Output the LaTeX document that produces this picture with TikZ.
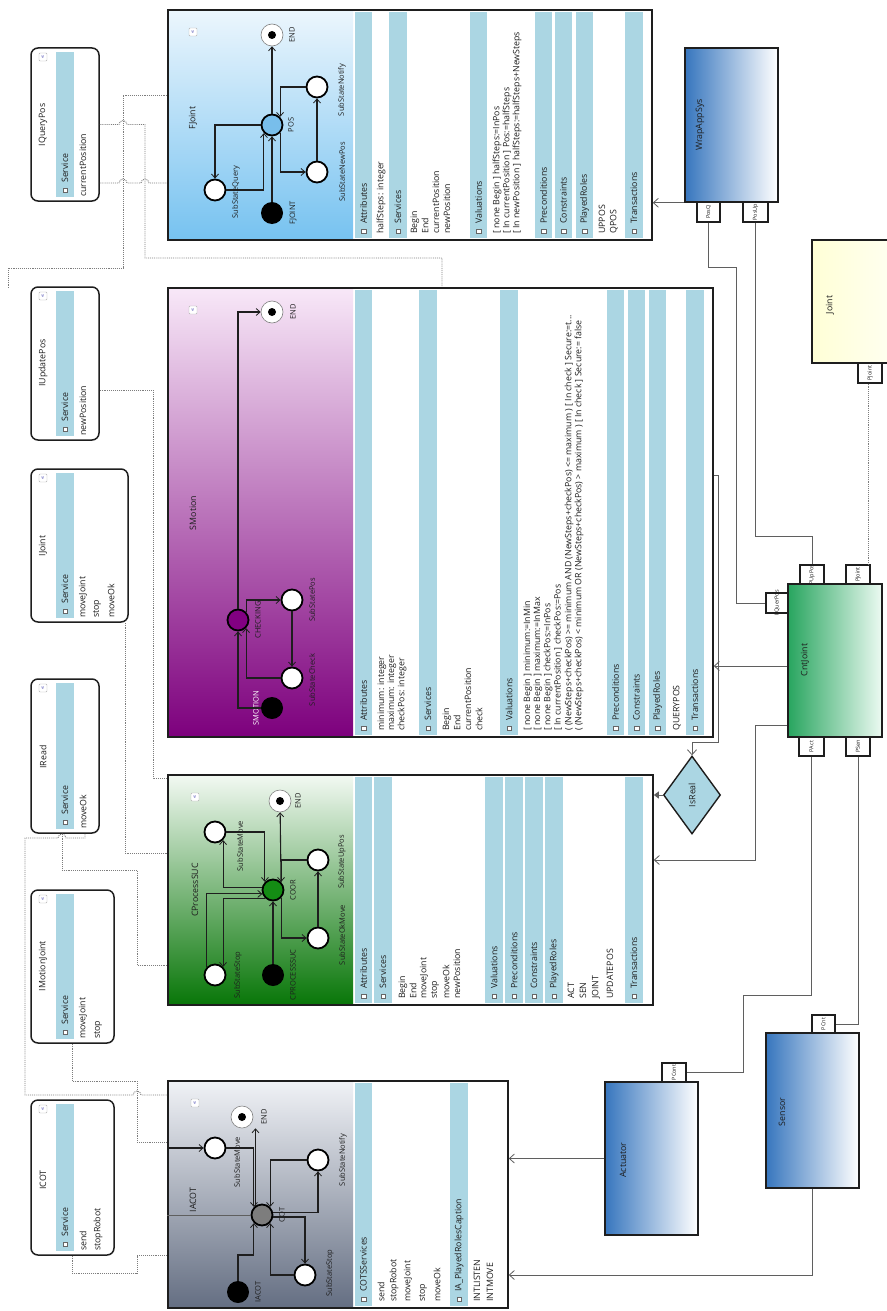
\documentclass[tikz,border=0pt]{standalone}
\usepackage{fontspec}
\setmainfont{Open Sans}
\usetikzlibrary{arrows.meta,shapes.geometric}

\definecolor{bandc}{RGB}{171,214,227}
\definecolor{ink}{RGB}{30,30,30}
\definecolor{wirec}{RGB}{95,95,95}
\definecolor{dotc}{RGB}{125,125,125}
\definecolor{posc}{RGB}{120,190,235}
\definecolor{chkc}{RGB}{130,0,130}
\definecolor{coorc}{RGB}{20,140,20}
\definecolor{cotc}{RGB}{125,125,125}

% compartment band: x1 x2 ytop ybottom label
\newcommand\Band[5]{%
  \fill[bandc] (#1,#3) rectangle (#2,#4);
  \node[expander] at ({(#1+#2)/2},{#4-7}) {};
  \node[txt] at ({(#1+#2)/2},{#4-14}) {#5};}
% compartment entry: x ybottom text
\newcommand\It[3]{\node[txt] at (#1,#2) {#3};}
% collapse icon
\newcommand\Icon[2]{\node[collapse] at (#1,#2) {«};}

\begin{document}
\begin{tikzpicture}[x=1pt,y=-1pt,
  txt/.style={rotate=90,anchor=west,inner sep=0pt,font=\fontsize{8.8}{9}\selectfont,text=ink},
  lbl/.style={rotate=90,inner sep=0pt,font=\fontsize{7.5}{8}\selectfont,text=ink},
  ttl/.style={rotate=90,inner sep=0pt,font=\fontsize{8.8}{9}\selectfont,text=ink},
  plbl/.style={rotate=90,inner sep=0pt,font=\fontsize{5.5}{6}\selectfont,text=ink},
  expander/.style={rectangle,draw=gray!80!black,fill=white,line width=0.4pt,minimum size=4.5pt,inner sep=0pt},
  collapse/.style={rectangle,rounded corners=1pt,draw=gray!60,fill=white,line width=0.4pt,minimum size=8pt,
    inner sep=0pt,rotate=90,font=\fontsize{6}{6}\selectfont,text=blue!40!gray},
  ifbox/.style={draw=ink,line width=1.5pt,rounded corners=7pt,inner sep=0pt},
  bigbox/.style={draw=ink,line width=1.6pt,inner sep=0pt},
  comp/.style={draw=ink,line width=1.5pt,inner sep=0pt},
  port/.style={rectangle,draw=ink,line width=1.3pt,fill=white,inner sep=0pt},
  st/.style={circle,draw=black,line width=1.8pt,fill=white,minimum size=21pt,inner sep=0pt},
  ini/.style={circle,fill=black,minimum size=22pt,inner sep=0pt},
  fin/.style={circle,draw=gray,line width=0.6pt,fill=white,minimum size=22pt,inner sep=0pt,
    path picture={\fill[black] (path picture bounding box.center) circle (4pt);}},
  tr/.style={draw=ink,line width=1.1pt,-{Straight Barb[length=4pt,width=7pt,line width=0.8pt]}},
  wire/.style={draw=wirec,line width=1pt},
  dwire/.style={draw=dotc,line width=0.9pt,densely dotted},
  arr/.style={-{Straight Barb[length=5pt,width=9pt,line width=0.8pt]}},
]
\useasboundingbox (0,0) rectangle (886,1311);
\fill[white] (0,0) rectangle (886,1311);

% ---------------- interfaces ----------------
\Band{56}{74}{52}{197}{Service}
\It{83}{197}{currentPosition}
\node[ifbox,minimum width=68pt,minimum height=153pt] (iq) at (65,124.5) {};
\node[ttl] at (43,125) {IQueryPos}; \Icon{43}{57}

\Band{56}{74}{291}{436}{Service}
\It{83}{436}{newPosition}
\node[ifbox,minimum width=68pt,minimum height=153pt] (iu) at (65,363.5) {};
\node[ttl] at (43,363) {IUpdatePos}; \Icon{43}{296}

\Band{56}{74}{473}{618}{Service}
\It{83}{618}{moveJoint} \It{97}{618}{stop} \It{111}{618}{moveOk}
\node[ifbox,minimum width=97pt,minimum height=153pt] (ij) at (79.5,545.5) {};
\node[ttl] at (43,546) {IJoint}; \Icon{43}{478}

\Band{56}{74}{683}{829}{Service}
\It{83}{829}{moveOk}
\node[ifbox,minimum width=68pt,minimum height=154pt] (ir) at (65,756) {};
\node[ttl] at (43,757) {IRead}; \Icon{43}{688}

\Band{56}{74}{894}{1039}{Service}
\It{83}{1039}{moveJoint} \It{98}{1039}{stop}
\node[ifbox,minimum width=83pt,minimum height=153pt] (im) at (72.5,966.5) {};
\node[ttl] at (43,966) {IMotionJoint}; \Icon{43}{899}

\Band{56}{74}{1104}{1251}{Service}
\It{83}{1251}{send} \It{98}{1251}{stopRobot}
\node[ifbox,minimum width=83pt,minimum height=155pt] (ic) at (72.5,1177.5) {};
\node[ttl] at (43,1180) {ICOT}; \Icon{43}{1109}

% ---------------- FJoint ----------------
\path[top color={rgb,255:red,236;green,246;blue,253},bottom color={rgb,255:red,118;green,194;blue,240}]
  (168,10) rectangle (353,240);
\Band{355}{372}{12}{238}{Attributes}
\It{381}{234}{halfSteps: integer}
\Band{389}{407}{12}{238}{Services}
\It{415}{234}{Begin} \It{425}{234}{End} \It{436}{234}{currentPosition} \It{447}{234}{newPosition}
\Band{470}{487}{12}{238}{Valuations}
\It{497}{234}{[ none Begin ] halfSteps:=InPos}
\It{507}{234}{[ In currentPosition ] Pos:=halfSteps}
\It{517}{234}{[ In newPosition ] halfSteps:=halfSteps+NewSteps}
\Band{535}{552}{12}{238}{Preconditions}
\Band{555}{572}{12}{238}{Constraints}
\Band{576}{593}{12}{238}{PlayedRoles}
\It{602}{234}{UPPOS} \It{614}{234}{QPOS}
\Band{625}{643}{12}{238}{Transactions}
\node[bigbox,minimum width=484pt,minimum height=230pt] (fj) at (410,125) {};
\node[ttl] at (193,118) {FJoint}; \Icon{193}{32}

\node[fin] (fjE) at (272,35) {};
\node[st,fill=posc] (fjP) at (272,125) {};
\node[st] (fjQ) at (215,190) {};
\node[ini] (fjI) at (272,213) {};
\node[st] (fjN) at (317,172) {};
\node[st] (fjY) at (317,87) {};
\node[lbl] at (292,35) {END};
\node[lbl] at (291,125) {POS};
\node[lbl] at (236,192) {SubStateQuery};
\node[lbl] at (293,213) {FJOINT};
\node[lbl] at (342,172) {SubStateNewPos};
\node[lbl] at (342,90) {SubStateNotify};
\draw[tr] (fjI) -- (fjP);
\draw[tr] (fjQ.east) -| (fjP.south west);
\draw[tr] (fjP.west) -| (fjQ.north);
\draw[tr] (fjP) -- (fjE);
\draw[tr] (fjP.south east) |- (fjN.west);
\draw[tr] (fjN) -- (fjY);
\draw[tr] (fjY.west) -| (fjP.north east);

% ---------------- SMotion ----------------
\path[top color={rgb,255:red,248;green,232;blue,248},middle color={rgb,255:red,195;green,95;blue,195},
  bottom color={rgb,255:red,125;green,0;blue,125}] (168,288) rectangle (353,737);
\Band{355}{372}{290}{735}{Attributes}
\It{382}{731}{minimum: integer} \It{392}{731}{maximum: integer} \It{402}{731}{checkPos: integer}
\Band{419}{437}{290}{735}{Services}
\It{447}{731}{Begin} \It{457}{731}{End} \It{468}{731}{currentPosition} \It{479}{731}{check}
\Band{500}{518}{290}{735}{Valuations}
\It{528}{731}{[ none Begin ] minimum:=InMin}
\It{538}{731}{[ none Begin ] maximum:=InMax}
\It{548}{731}{[ none Begin ] checkPos:=InPos}
\It{558}{731}{[ In currentPosition ] checkPos:=Pos}
\It{569}{731}{( (NewSteps+checkPos) >= minimum AND (NewSteps+checkPos) <= maximum ) [ In check ] Secure:=t...}
\It{579}{731}{( (NewSteps+checkPos) < minimum OR (NewSteps+checkPos) > maximum ) [ In check ] Secure:= false}
\Band{607}{624}{290}{735}{Preconditions}
\Band{628}{645}{290}{735}{Constraints}
\Band{649}{666}{290}{735}{PlayedRoles}
\It{677}{731}{QUERYPOS}
\Band{686}{704}{290}{735}{Transactions}
\node[bigbox,minimum width=545pt,minimum height=449pt] (sm) at (440.5,512.5) {};
\node[ttl] at (193,513) {SMotion}; \Icon{193}{310}

\node[fin] (smE) at (272,312) {};
\node[st,fill=chkc] (smC) at (238,620) {};
\node[st] (smP) at (292,600) {};
\node[st] (smK) at (292,678) {};
\node[ini] (smI) at (272,708) {};
\node[lbl] at (293,312) {END};
\node[lbl] at (258,620) {CHECKING};
\node[lbl] at (312,600) {SubStatePos};
\node[lbl] at (312,680) {SubStateCheck};
\node[lbl,text=white] at (256,708) {SMOTION};
\draw[tr] (smC) |- (smE);
\draw[tr] (smC.north east) |- (smP);
\draw[tr] (smP) -- (smK);
\draw[tr] (smK) -| (smC.south east);
\draw[tr] (smI) -| (smC);

% ---------------- CProcessSUC ----------------
\path[top color={rgb,255:red,242;green,249;blue,242},middle color={rgb,255:red,95;green,175;blue,95},
  bottom color={rgb,255:red,8;green,118;blue,8}] (168,775) rectangle (353,1005);
\Band{355}{372}{777}{1003}{Attributes}
\Band{374}{392}{777}{1003}{Services}
\It{403}{999}{Begin} \It{413}{999}{End} \It{424}{999}{moveJoint} \It{435}{999}{stop}
\It{446}{999}{moveOk} \It{457}{999}{newPosition}
\Band{485}{503}{777}{1003}{Valuations}
\Band{505}{523}{777}{1003}{Preconditions}
\Band{525}{543}{777}{1003}{Constraints}
\Band{545}{563}{777}{1003}{PlayedRoles}
\It{571}{999}{ACT} \It{583}{999}{SEN} \It{596}{999}{JOINT} \It{610}{999}{UPDATEPOS}
\Band{625}{643}{777}{1003}{Transactions}
\node[bigbox,minimum width=485pt,minimum height=230pt] (cp) at (410.5,890) {};
\node[ttl] at (195,890) {CProcessSUC}; \Icon{195}{797}

\node[fin] (cpE) at (280,801) {};
\node[st] (cpM) at (215,832) {};
\node[st,fill=coorc] (cpC) at (273,890) {};
\node[st] (cpS) at (215,975) {};
\node[ini] (cpI) at (273,975) {};
\node[st] (cpO) at (318,938) {};
\node[st] (cpU) at (318,860) {};
\node[lbl] at (298,801) {END};
\node[lbl] at (240,846) {SubStateMove};
\node[lbl] at (293,890) {COOR};
\node[lbl] at (238,975) {SubStateStop};
\node[lbl] at (293,975) {CPROCESSSUC};
\node[lbl] at (342,935) {SubStateOkMove};
\node[lbl] at (342,862) {SubStateUpPos};
\draw[tr] (cpI) -- (cpC);
\draw[tr] (cpC.north east) -- (cpE);
\draw[tr] (cpM.east) -| (cpC.north west);
\draw[tr] (cpC.165) -| (cpM.south east);
\draw[tr] (cpS.north west) |- (cpC.200);
\draw[tr] (cpC.south west) -| (cpS.north east);
\draw[tr] (cpC.south east) |- (cpO.west);
\draw[tr] (cpO) -- (cpU);
\draw[tr] (cpU.west) -| (cpC.north east);

% ---------------- IACOT ----------------
\path[top color={rgb,255:red,240;green,242;blue,246},bottom color={rgb,255:red,100;green,110;blue,130}]
  (168,1081) rectangle (353,1308);
\Band{355}{372}{1083}{1306}{COTSServices}
\It{381}{1302}{send} \It{394}{1302}{stopRobot} \It{408}{1302}{moveJoint} \It{423}{1302}{stop}
\It{437}{1302}{moveOk}
\Band{450}{468}{1083}{1306}{IA\_PlayedRolesCaption}
\It{477}{1302}{INTLISTEN} \It{490}{1302}{INTMOVE}
\node[bigbox,minimum width=340pt,minimum height=227pt] (cc) at (338,1194.5) {};
\node[ttl] at (193,1200) {IACOT}; \Icon{195}{1103}

\node[fin] (ccE) at (242,1117) {};
\node[st] (ccM) at (215,1148) {};
\node[st,fill=cotc] (ccC) at (262,1215) {};
\node[ini] (ccI) at (238,1292) {};
\node[st] (ccS) at (305,1275) {};
\node[st] (ccN) at (318,1160) {};
\node[lbl] at (264,1117) {END};
\node[lbl] at (237,1162) {SubStateMove};
\node[lbl] at (282,1215) {COT};
\node[lbl] at (258,1292) {IACOT};
\node[lbl] at (330,1273) {SubStateStop};
\node[lbl] at (343,1160) {SubStateNotify};
\draw[tr] (cc.west |- ccM) -- (ccM);
\draw[wire] (cc.west |- ccC) -- (ccC);
\draw[tr] (ccI) |- (246,1255) -| (ccC.south west);
\draw[tr] (ccS) -| (ccC.south east);
\draw[tr] (ccC.-10) -| (ccS);
\draw[tr] (ccC.15) -| (ccN);
\draw[tr] (ccN) -| (ccC.north east);
\draw[tr] (ccM) -| (ccC.north west);
\draw[tr] (ccC.125) -- (ccC.125 |- ccE.south);

% ---------------- components ----------------
\node[comp,left color={rgb,255:red,55;green,118;blue,190},right color=white,minimum width=93pt,minimum height=154pt]
  (wr) at (731.5,125) {};
\node[ttl] at (700,125) {WrapAppSys};
\node[port,minimum width=23pt,minimum height=20pt] (wpq) at (708.5,212) {};
\node[port,minimum width=25pt,minimum height=20pt] (wpu) at (755.5,212) {};
\node[plbl] at (708.5,212) {PosQ};
\node[plbl] at (755.5,212) {PosUp};

\node[comp,left color={rgb,255:red,255;green,255;blue,214},right color={rgb,255:red,255;green,255;blue,240},
  minimum width=80pt,minimum height=123pt] (jt) at (852,301.5) {};
\node[ttl] at (830,305) {Joint};
\node[port,minimum width=24pt,minimum height=20pt] (jpj) at (870,373) {};
\node[plbl] at (870,373) {PJoint};

\node[comp,left color={rgb,255:red,40;green,165;blue,95},right color={rgb,255:red,236;green,250;blue,242},
  minimum width=94pt,minimum height=153pt] (cj) at (835,660.5) {};
\node[ttl] at (805,660) {CntJoint};
\node[port,minimum width=22pt,minimum height=20pt] (cpq) at (777,603) {};
\node[port,minimum width=24pt,minimum height=19pt] (cup) at (812,574.5) {};
\node[port,minimum width=24pt,minimum height=19pt] (cpj) at (858,574.5) {};
\node[port,minimum width=25pt,minimum height=19pt] (cpa) at (811.5,746.5) {};
\node[port,minimum width=24pt,minimum height=19pt] (cps) at (858,746.5) {};
\node[plbl] at (777,603) {PQuerPos};
\node[plbl] at (812,574.5) {PUpPos};
\node[plbl] at (858,574.5) {PJoint};
\node[plbl] at (811.5,746.5) {PAct};
\node[plbl] at (858,746.5) {PSen};

\node[comp,left color={rgb,255:red,55;green,118;blue,190},right color=white,minimum width=93pt,minimum height=153pt]
  (ac) at (651.5,1158.5) {};
\node[ttl] at (623,1160) {Actuator};
\node[port,minimum width=24pt,minimum height=19pt] (apc) at (674,1072.5) {};
\node[plbl] at (674,1072.5) {PCont};

\node[comp,left color={rgb,255:red,55;green,118;blue,190},right color=white,minimum width=93pt,minimum height=155pt]
  (se) at (812.5,1110.5) {};
\node[ttl] at (782,1112) {Sensor};
\node[port,minimum width=23pt,minimum height=18pt] (spc) at (823.5,1024) {};
\node[plbl] at (823.5,1024) {PCnt};

\node[diamond,draw=ink,line width=1.4pt,fill=bandc,minimum width=57pt,minimum height=78pt,inner sep=0pt]
  (dia) at (692,795) {};
\node[ttl] at (692,795) {IsReal};

% ---------------- connectors ----------------
\draw[dwire] (fj.west |- 0,95) -- (123,95) -- (123,268) -- (8,268) -- (8,288);
\draw[dwire] (iq.east) -- (119,124.5) arc(180:360:4) -- (145,124.5) -- (145,258) -- (442,258) -- (sm.north -| 442,0);
\draw[dwire] (iq.east |- 0,183) -- (119,183) arc(180:360:4) -- (141,183) arc(180:360:4) -- (fj.west |- 0,183);
\draw[dwire] (iu.east |- 0,390) -- (153,390) -- (153,778) -- (cp.west |- 0,778);
\draw[dwire] (ij.south -| 125,0) -- (125,853) -- (cp.west |- 0,853);
\draw[dwire] (ir.south -| 62,0) -- (62,870) -- (137,870) -- (137,965) -- (cp.west |- 0,965);
\draw[dwire] (ir.south -| 85,0) -- (85,838) -- (66,838) arc(360:180:4) -- (25,838) -- (25,1095)
  -- (133,1095) arc(180:360:4) -- (cc.west |- 0,1095);
\draw[dwire] (im.south -| 72,0) -- (72,1081) -- (137,1081) -- (137,1142) -- (cc.west |- 0,1142);
\draw[dwire] (ic.south -| 72,0) -- (72,1273) -- (137,1273) -- (137,1255) -- (cc.west |- 0,1255);

\draw[wire,arr] (wr.south west) -- (fj.east |- wr.south west);
\draw[wire] (wpq.south) -- (708.5,267) -- (736,267) |- (cpq.west);
\draw[wire] (wpu.south) |- (812,536) -- (cup.north);
\draw[dwire] (jpj.south -| 868,0) -- (cpj.north -| 868,0);
\draw[wire,arr] (cj.west |- 0,666) -- (sm.east |- 0,666);
\draw[wire,arr] (sm.east |- 0,475) -- (718,475) -- (718,742) -- (692,742) -- (dia.north);
\draw[wire,-{Triangle[length=5pt,width=7pt]}] (dia.west) -- (cp.east |- dia.west);
\draw[wire,arr] (cj.west |- 0,725) -- (755,725) |- (cp.east |- 0,860);
\draw[wire] (cpa.south) -- (811.5,995) -- (743,995) |- (apc.east);
\draw[wire] (cps.south) |- (spc.east);
\draw[wire,arr] (se.south) |- (cc.east |- 0,1275);
\draw[wire,arr] (ac.west) -- (cc.east |- ac.west);
\end{tikzpicture}
\end{document}
